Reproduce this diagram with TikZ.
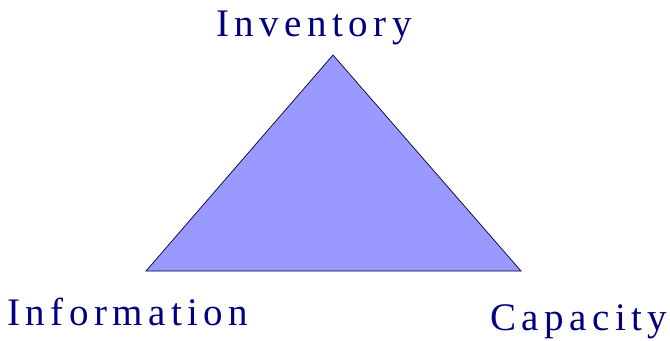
\documentclass[tikz,border=0pt]{standalone}
\usepackage{fontspec}
\setmainfont{Liberation Serif}
\usepackage{tikz}
\usepackage{xcolor}
\definecolor{trifill}{RGB}{153,153,255}
\definecolor{navytext}{RGB}{0,0,128}
\newfontfamily\spacedfont[LetterSpace=14]{Liberation Serif}

\begin{document}
\begin{tikzpicture}[
    label/.style={anchor=base west, inner sep=0pt, text=navytext,
        font=\spacedfont\fontsize{22.2}{26}\selectfont}]
    \useasboundingbox (0,0) rectangle (13.4,6.8);

    % Corners of the triangle
    \coordinate (top) at (6.66,5.7);
    \coordinate (left) at (2.92,1.38);
    \coordinate (right) at (10.42,1.38);
    \draw[fill=trifill, draw=navytext!40!black, thin] (top) -- (left) -- (right) -- cycle;

    % Labels
    \node[label] (inv) at (4.32,6.08) {Inventory};
    \node[label] (info) at (0.14,0.30) {Information};
    \node[label] (cap) at (9.80,0.20) {Capacity};
\end{tikzpicture}
\end{document}
